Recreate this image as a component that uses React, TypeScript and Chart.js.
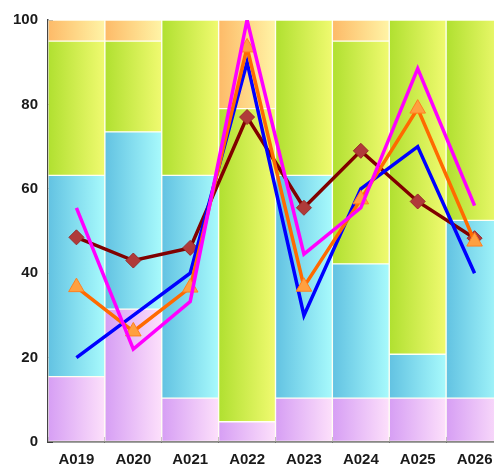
import React, { useEffect, useRef } from "react";
import { Chart, registerables } from "chart.js";

Chart.register(...registerables);

const categories = ["A019", "A020", "A021", "A022", "A023", "A024", "A025", "A026"];
const purpleSeg = [15.5, 31.5, 10.4, 4.8, 10.4, 10.4, 10.4, 10.4];
const cyanSeg = [47.7, 42, 52.8, 0, 52.8, 31.8, 10.4, 42.1];
const greenSeg = [31.8, 21.5, 36.8, 74.2, 36.8, 52.8, 79.2, 47.5];
const orangeSeg = [5, 5, 0, 21, 0, 5, 0, 0];

const maroonLine = [48.5, 43, 46, 77, 55.5, 69, 57, 48.3];
const orangeLine = [36.7, 26.2, 36.6, 93.5, 36.8, 57.5, 79, 47.5];
const blueLine = [20, 30, 40, 90, 30, 60, 70, 40];
const magentaLine = [55.5, 22, 33.3, 100, 44.5, 55.5, 88.5, 56];

const yTicks = [0, 20, 40, 60, 80, 100];

const grad = (c1: string, c2: string) => (ctx: any) => {
  const chart = ctx.chart;
  const xs = chart.scales && chart.scales.x;
  if (!xs || ctx.dataIndex === undefined || !chart.chartArea) return c1;
  const cx = xs.getPixelForValue(ctx.dataIndex);
  const w = xs.width / categories.length;
  const g = chart.ctx.createLinearGradient(cx - w / 2, 0, cx + w / 2, 0);
  g.addColorStop(0, c1);
  g.addColorStop(1, c2);
  return g;
};

export default function App() {
  const ref = useRef<HTMLCanvasElement | null>(null);
  useEffect(() => {
    if (!ref.current) return;
    const font = { family: "'Liberation Sans', Arial, sans-serif", size: 15, weight: "bold" as const };
    const barCommon = {
      type: "bar" as const,
      order: 10,
      borderWidth: 1,
      borderColor: "rgba(255,255,240,0.65)",
      borderSkipped: false as const,
      barPercentage: 1,
      categoryPercentage: 1,
      stack: "bars",
    };
    const chart = new Chart(ref.current, {
      type: "bar",
      data: {
        labels: categories,
        datasets: [
          { ...barCommon, data: purpleSeg, backgroundColor: grad("#d69ef4", "#fde0fb") },
          { ...barCommon, data: cyanSeg, backgroundColor: grad("#62c2e2", "#a8fafc") },
          { ...barCommon, data: greenSeg, backgroundColor: grad("#b0e030", "#f0fa70") },
          { ...barCommon, data: orangeSeg, backgroundColor: grad("#fdba68", "#fff4a6") },
          {
            type: "line",
            order: 4,
            stack: "l1",
            data: maroonLine,
            borderColor: "#800000",
            borderWidth: 3.5,
            tension: 0,
            pointStyle: "rectRot",
            pointRadius: 7.5,
            pointBackgroundColor: "#b03a3a",
            pointBorderColor: "#9a2a2a",
            pointBorderWidth: 1,
          },
          {
            type: "line",
            order: 3,
            stack: "l2",
            data: blueLine,
            borderColor: "#0000ff",
            borderWidth: 3.5,
            tension: 0,
            pointRadius: 0,
          },
          {
            type: "line",
            order: 2,
            stack: "l3",
            data: orangeLine,
            borderColor: "#ff6a00",
            borderWidth: 3.5,
            tension: 0,
            pointStyle: "triangle",
            pointRadius: 9,
            pointBackgroundColor: "#ffa040",
            pointBorderColor: "#ff8020",
            pointBorderWidth: 1,
          },
          {
            type: "line",
            order: 1,
            stack: "l4",
            data: magentaLine,
            borderColor: "#ff00ff",
            borderWidth: 3.5,
            tension: 0,
            pointRadius: 0,
          },
        ] as any,
      },
      options: {
        animation: false,
        responsive: false,
        layout: { autoPadding: false, padding: { top: 12, right: 9, left: 0, bottom: 0 } },
        plugins: { legend: { display: false }, tooltip: { enabled: false } },
        scales: {
          x: {
            stacked: true,
            offset: true,
            grid: { drawOnChartArea: false, tickLength: -5, color: "#333", offset: true },
            border: { display: true, color: "#444", width: 1.5 },
            ticks: { color: "#1a1a1a", font, padding: 14, maxRotation: 0, autoSkip: false },
            afterFit: (s: any) => {
              s.height = 24;
              s.paddingLeft = 0;
              s.paddingRight = 0;
            },
          },
          y: {
            stacked: true,
            min: 0,
            max: 100,
            afterBuildTicks: (s: any) => {
              s.ticks = yTicks.map((v) => ({ value: v }));
            },
            grid: { drawOnChartArea: false, tickLength: -5, color: "#333" },
            border: { display: true, color: "#444", width: 1.5 },
            ticks: { color: "#1a1a1a", font, padding: 15 },
            afterFit: (s: any) => {
              s.width = 40;
              s.paddingTop = 0;
              s.paddingBottom = 0;
            },
          },
        },
      },
    });
    return () => chart.destroy();
  }, []);
  return (
    <div style={{ position: "fixed", left: 8, top: 8, width: 486, height: 458, overflow: "hidden" }}>
      <canvas ref={ref} width={504} height={458} style={{ display: "block" }} />
    </div>
  );
}
